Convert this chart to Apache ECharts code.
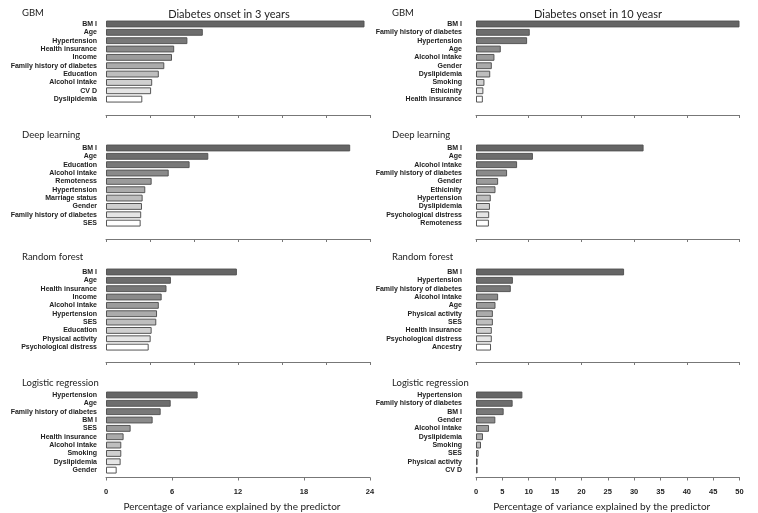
<!DOCTYPE html>
<html>
<head>
<meta charset="utf-8">
<script src="https://cdn.jsdelivr.net/npm/echarts@6/dist/echarts.min.js"></script>
<style>html,body{margin:0;padding:0;background:#fff}#c{width:758px;height:513px}</style>
</head>
<body>
<div id="c"></div>
<script>
// ---- Data: Diabetes onset in 3 years ----
const gbm3Labels = ['BM I','Age','Hypertension','Health insurance','Income','Family history of diabetes','Education','Alcohol intake','CV D','Dyslipidemia'];
const gbm3Values = [23.5, 8.8, 7.4, 6.2, 6.0, 5.3, 4.8, 4.2, 4.1, 3.3];
const dl3Labels = ['BM I','Age','Education','Alcohol intake','Remoteness','Hypertension','Marriage status','Gender','Family history of diabetes','SES'];
const dl3Values = [22.2, 9.3, 7.6, 5.7, 4.15, 3.57, 3.33, 3.27, 3.2, 3.15];
const rf3Labels = ['BM I','Age','Health insurance','Income','Alcohol intake','Hypertension','SES','Education','Physical activity','Psychological distress'];
const rf3Values = [11.9, 5.9, 5.5, 5.06, 4.8, 4.64, 4.57, 4.15, 4.06, 3.88];
const lr3Labels = ['Hypertension','Age','Family history of diabetes','BM I','SES','Health insurance','Alcohol intake','Smoking','Dyslipidemia','Gender'];
const lr3Values = [8.33, 5.88, 4.97, 4.24, 2.24, 1.6, 1.39, 1.39, 1.33, 0.97];
// ---- Data: Diabetes onset in 10 years ----
const gbm10Labels = ['BM I','Family history of diabetes','Hypertension','Age','Alcohol intake','Gender','Dyslipidemia','Smoking','Ethicinity','Health insurance'];
const gbm10Values = [50, 10.2, 9.7, 4.7, 3.5, 3.0, 2.7, 1.6, 1.4, 1.3];
const dl10Labels = ['BM I','Age','Alcohol intake','Family history of diabetes','Gender','Ethicinity','Hypertension','Dyslipidemia','Psychological distress','Remoteness'];
const dl10Values = [31.8, 10.8, 7.8, 5.9, 4.2, 3.7, 2.8, 2.65, 2.5, 2.45];
const rf10Labels = ['BM I','Hypertension','Family history of diabetes','Alcohol intake','Age','Physical activity','SES','Health insurance','Psychological distress','Ancestry'];
const rf10Values = [28.1, 7.0, 6.6, 4.2, 3.7, 3.2, 3.2, 3.0, 3.0, 2.85];
const lr10Labels = ['Hypertension','Family history of diabetes','BM I','Gender','Alcohol intake','Dyslipidemia','Smoking','SES','Physical activity','CV D'];
const lr10Values = [8.8, 6.95, 5.25, 3.67, 2.47, 1.33, 0.95, 0.5, 0.3, 0.3];

const panelTitles = ['GBM','Deep learning','Random forest','Logistic regression'];
const colTitles = ['Diabetes onset in 3 years','Diabetes onset in 10 yeasr'];
const axisName = 'Percentage of variance explained by the predictor';

// ---- Layout / style ----
const shades = ['#656565','#6d6d6d','#787878','#8a8a8a','#9b9b9b','#ababab','#bebebe','#d0d0d0','#e5e5e5','#ffffff'];
const cols = [
  {left:106, right:388, max:24, upInt:4, lowInt:6, labelMargin:9, panels:[[gbm3Labels,gbm3Values],[dl3Labels,dl3Values],[rf3Labels,rf3Values],[lr3Labels,lr3Values]], titleX:22, colTitleCenter:229},
  {left:476, right:18.5, max:50, upInt:10, lowInt:5, labelMargin:14, panels:[[gbm10Labels,gbm10Values],[dl10Labels,dl10Values],[rf10Labels,rf10Values],[lr10Labels,lr10Values]], titleX:392, colTitleCenter:598}
];
const rows = [
  {top:19.8, axisY:115, titleY:8},
  {top:143.8, axisY:239, titleY:130},
  {top:267.8, axisY:362, titleY:252},
  {top:390.8, axisY:477.5, titleY:378}
];
const bandH = 83.5;
const labelFont = "'Liberation Sans',Arial,sans-serif";
const titleFont = "'Lato','Open Sans',sans-serif";

const grid = [], xAxis = [], yAxis = [], series = [], title = [];
cols.forEach((c, ci) => {
  title.push({text: colTitles[ci], left: c.colTitleCenter, top: 9, textAlign: 'center', padding: 0,
    textStyle: {fontFamily: titleFont, fontSize: 11, fontWeight: 'normal', color: '#222'}});
  rows.forEach((r, ri) => {
    const idx = grid.length;
    const last = ri === rows.length - 1;
    const bottomPx = 513 - (r.top + bandH);
    grid.push({left: c.left, right: c.right, top: r.top, bottom: bottomPx, containLabel: false, outerBoundsMode: 'none'});
    xAxis.push({
      gridIndex: idx, type: 'value', min: 0, max: c.max, interval: last ? c.lowInt : c.upInt,
      offset: r.axisY - (r.top + bandH),
      axisLine: {show: true, lineStyle: {color: '#777', width: 1}},
      axisTick: {show: true, length: 3, lineStyle: {color: '#777'}},
      splitLine: {show: false},
      axisLabel: {show: last, margin: 10, fontFamily: labelFont, fontWeight: 'bold', fontSize: 7.5, color: '#222'},
      name: last ? axisName : '', nameLocation: 'middle', nameGap: 24,
      nameTextStyle: {fontFamily: titleFont, fontSize: 10, color: '#222', padding: [0, 12, 0, 0]}
    });
    const [labs, vals] = c.panels[ri];
    yAxis.push({
      gridIndex: idx, type: 'category', inverse: true, data: labs,
      axisLine: {show: false}, axisTick: {show: false},
      axisLabel: {interval: 0, margin: c.labelMargin, fontFamily: labelFont, fontWeight: 'bold', fontSize: 7, color: '#222'}
    });
    series.push({
      type: 'bar', xAxisIndex: idx, yAxisIndex: idx, barCategoryGap: '18%',
      data: vals.map((v, i) => ({value: v, itemStyle: {color: shades[i]}})),
      itemStyle: {borderColor: '#555', borderWidth: 1},
      animation: false
    });
    title.push({text: panelTitles[ri], left: c.titleX, top: r.titleY, padding: 0,
      textStyle: {fontFamily: titleFont, fontSize: 9.5, fontWeight: 'normal', color: '#222'}});
  });
});

const chart = echarts.init(document.getElementById('c'), null, {renderer: 'canvas'});
chart.setOption({animation: false, backgroundColor: '#fff', title, grid, xAxis, yAxis, series});
</script>
</body>
</html>
